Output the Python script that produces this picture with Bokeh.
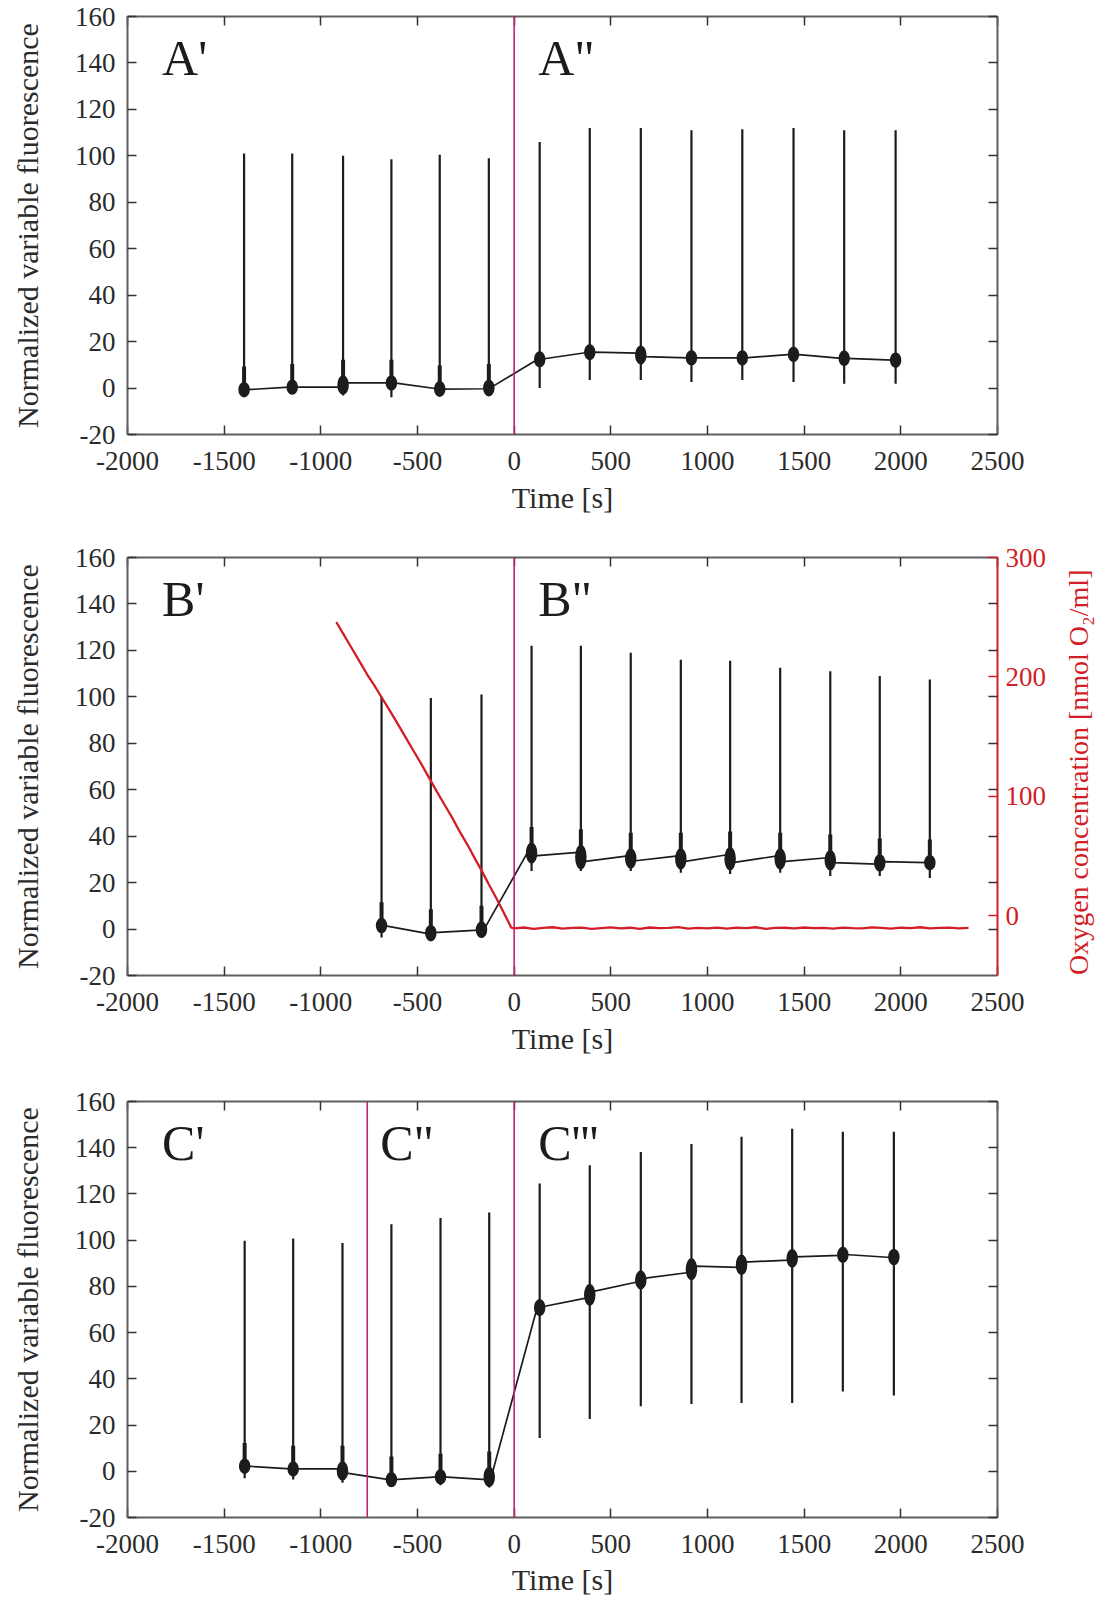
import math
from bokeh.plotting import figure
from bokeh.models import Range1d, LinearAxis, FixedTicker, Span, Label
from bokeh.layouts import column, row
from bokeh.core.properties import value
from bokeh.embed import file_html
from bokeh.resources import INLINE

FONT = "Liberation Serif"
INK = "#1c1c1c"
AXIS = "#5f5f5f"
TICK = "#333333"
LABEL = "#2b2b2b"
MARK = "#c8206e"
RED = "#d21e28"

# ---------------- data ----------------
x_ticks = [-2000, -1500, -1000, -500, 0, 500, 1000, 1500, 2000, 2500]
y_ticks = [-20, 0, 20, 40, 60, 80, 100, 120, 140, 160]
o2_ticks = [0, 100, 200, 300]

# Panel A
a_time = [-1397, -1148, -885, -635, -385, -131, 132, 391, 655, 917, 1180, 1445, 1707, 1973]
a_level_in = [-0.7, 0.4, 0.4, 2.2, -0.3, -0.3, 12.2, 15.3, 15.0, 13.0, 13.0, 14.5, 12.8, 12.0]
a_level_out = [-0.7, 0.4, 2.2, 2.2, -0.5, 0.4, 12.5, 15.5, 13.5, 13.0, 13.0, 14.5, 12.8, 12.0]
a_peak = [101, 101, 100, 98.5, 100.5, 99, 106, 112, 112, 111, 111.5, 112, 111, 111]
a_trough = [-3.2, -2.5, -3.2, -4.0, -3.2, -3.2, 0.0, 3.5, 3.5, 2.6, 3.5, 2.6, 1.9, 1.9]
a_bounds = [0]
a_names = ["A'", 'A"']

# Panel B
b_time = [-686, -431, -169, 90, 345, 603, 862, 1117, 1376, 1635, 1891, 2150]
b_level_in = [1.5, -2.0, -0.5, 34.0, 33.0, 31.5, 31.5, 32.0, 31.5, 30.7, 28.0, 28.6]
b_level_out = [1.5, -1.5, 0.0, 31.5, 29.0, 29.3, 29.0, 28.6, 29.0, 28.6, 29.0, 28.6]
b_peak = [100, 99.5, 101, 122, 122, 119, 116, 115.5, 112.5, 111, 109, 107.5]
b_trough = [-3.6, -4.3, -3.6, 25.0, 25.0, 25.0, 24.3, 23.7, 24.3, 22.8, 22.8, 22.0]
b_bounds = [0]
b_names = ["B'", 'B"']

# Oxygen trace (panel B, right axis)
o2_time = [-920, -880, -840, -800, -760, -720, -686, -640, -600, -560, -520, -480,
           -431, -400, -360, -320, -280, -240, -200, -169, -130, -90, -55, -30, -15,
           0, 50, 100, 150, 200, 250, 300, 350, 400, 450, 500, 550, 600, 650, 700,
           750, 800, 850, 900, 950, 1000, 1050, 1100, 1150, 1200, 1250, 1300, 1350,
           1400, 1450, 1500, 1550, 1600, 1650, 1700, 1750, 1800, 1850, 1900, 1950,
           2000, 2050, 2100, 2150, 2200, 2250, 2300, 2350]
o2_conc = [246, 235, 224, 213, 202, 192, 183, 171, 160, 149, 138, 127,
           113, 104, 93, 82, 70, 59, 47, 38, 26, 14, 3, -5, -10,
           -10.5, -9.8, -10.9, -10.2, -9.6, -10.8, -10.1, -9.9, -11.0, -10.3, -9.7,
           -10.6, -10.0, -10.9, -9.8, -10.4, -10.2, -9.5, -10.7, -10.1, -10.5, -9.9,
           -10.8, -10.0, -10.3, -9.6, -10.9, -10.2, -10.0, -10.6, -9.8, -10.4, -10.1,
           -10.7, -9.9, -10.3, -10.5, -9.7, -10.2, -10.8, -10.0, -10.4, -9.6, -10.6,
           -10.1, -9.9, -10.5, -10.2]
o2_title = "Oxygen concentration [nmol O\u2082/ml]"

# Panel C
c_time = [-1394, -1143, -888, -635, -381, -129, 132, 391, 655, 917, 1176, 1438, 1700, 1964]
c_level_in = [2.2, 1.0, 1.0, -3.6, -2.4, -3.6, 70.5, 75.0, 82.0, 86.0, 88.2, 91.4, 93.4, 92.5]
c_level_out = [2.2, 1.0, -0.7, -3.6, -2.4, -1.4, 71.2, 77.7, 83.5, 88.8, 90.5, 92.8, 93.8, 93.0]
c_peak = [99.7, 100.7, 98.8, 106.9, 109.6, 112.0, 124.5, 132.4, 138.1, 141.6, 144.7, 148.2, 146.9, 146.9]
c_trough = [-3.0, -3.6, -5.0, -6.5, -6.0, -7.0, 14.4, 22.6, 28.1, 29.1, 29.5, 29.5, 34.5, 32.8]
c_bounds = [-760, 0]
c_names = ["C'", 'C"', "C'''"]


# ---------------- helpers ----------------
def style_axis(ax, color=AXIS, tick_color=TICK, label_color=LABEL, show_labels=True):
    ax.axis_line_color = color
    ax.axis_line_width = 2
    ax.major_tick_line_color = tick_color
    ax.major_tick_line_width = 1.5
    ax.major_tick_in = 9
    ax.major_tick_out = 0
    ax.minor_tick_line_color = None
    ax.major_label_text_font = FONT
    ax.major_label_text_color = label_color
    ax.axis_label_text_font = FONT
    ax.axis_label_text_font_size = "30px"
    ax.axis_label_text_font_style = "normal"
    ax.axis_label_text_color = label_color
    ax.major_label_text_font_size = "27px"
    if not show_labels:
        ax.major_label_text_font_size = "1px"
        ax.major_label_standoff = 0


def make_panel(width, height, border_top, border_bottom, border_right=108,
               right_mirror=True, lab_standoff=17, title_standoff=8):
    p = figure(width=width, height=height, x_range=Range1d(-2000, 2500),
               y_range=Range1d(-20, 160), output_backend="svg",
               toolbar_location=None, x_axis_location=None, y_axis_location=None,
               min_border_left=127, min_border_right=border_right,
               min_border_top=border_top, min_border_bottom=border_bottom)
    p.outline_line_color = None
    p.xgrid.visible = False
    p.ygrid.visible = False
    p.background_fill_color = "white"
    p.border_fill_color = "white"

    xt = FixedTicker(ticks=x_ticks)
    yt = FixedTicker(ticks=y_ticks)

    bottom = LinearAxis(ticker=xt, axis_label="Time [s]",
                        major_label_overrides={v: str(v) for v in x_ticks})
    style_axis(bottom)
    bottom.major_label_standoff = lab_standoff
    bottom.axis_label_standoff = title_standoff
    p.add_layout(bottom, "below")

    top = LinearAxis(ticker=xt, major_label_overrides={v: "" for v in x_ticks})
    style_axis(top, show_labels=False)
    p.add_layout(top, "above")

    left = LinearAxis(ticker=yt, axis_label="Normalized variable fluorescence",
                      major_label_overrides={v: str(v) for v in y_ticks})
    style_axis(left)
    left.major_label_standoff = 12
    left.axis_label_standoff = 28
    p.add_layout(left, "left")

    if right_mirror:
        right = LinearAxis(ticker=yt, major_label_overrides={v: "" for v in y_ticks})
        style_axis(right, show_labels=False)
        p.add_layout(right, "right")
    return p


def draw_events(p, t, lin, lout, peak, trough, n_tail):
    xs, ys = [], []
    for ti, a, b in zip(t, lin, lout):
        xs += [ti - 14, ti + 14]
        ys += [a, b]
    p.line(xs, ys, line_color=INK, line_width=1.7)
    p.segment(x0=t, y0=trough, x1=t, y1=peak, line_color=INK, line_width=2.2)
    lo = [min(a, b) - 3 for a, b in zip(lin, lout)]
    hi = [max(a, b) + 3 for a, b in zip(lin, lout)]
    p.ellipse(x=t, y=[(l + h) / 2 for l, h in zip(lo, hi)], width=10,
              height=[h - l for l, h in zip(lo, hi)], width_units="screen",
              fill_color=INK, line_color=INK, line_width=1.5)
    p.segment(x0=t[:n_tail], y0=hi[:n_tail], x1=t[:n_tail],
              y1=[h + 7 for h in hi[:n_tail]], line_color=INK, line_width=4)


def add_marks(p, bounds, names, name_x):
    for b in bounds:
        p.add_layout(Span(location=b, dimension="height", line_color=MARK,
                          line_width=1.6))
    for nm, nx in zip(names, name_x):
        p.add_layout(Label(x=nx, y=142, text=nm, text_font=FONT,
                           text_font_size="50px", text_color=INK,
                           text_baseline="alphabetic", text_align="left"))


# ---------------- panel A ----------------
pa = make_panel(1105, 541, 16, 107)
draw_events(pa, a_time, a_level_in, a_level_out, a_peak, a_trough, 6)
add_marks(pa, a_bounds, a_names, [-1821, 124])

# ---------------- panel B ----------------
pb = make_panel(1062, 544, 16, 110, border_right=65, right_mirror=False)
pb.extra_y_ranges = {"o2": Range1d(-50, 300)}
mirror_minor = [-50 + (v + 20) * 350 / 180 for v in y_ticks[1:-1]]
raxis = LinearAxis(y_range_name="o2",
                   ticker=FixedTicker(ticks=o2_ticks, minor_ticks=mirror_minor),
                   major_label_overrides={v: str(v) for v in o2_ticks})
style_axis(raxis, color=RED, tick_color=RED, label_color=RED)
raxis.minor_tick_line_color = TICK
raxis.minor_tick_line_width = 1.5
raxis.minor_tick_in = 9
raxis.minor_tick_out = 0
raxis.major_label_standoff = 8
pb.add_layout(raxis, "right")
draw_events(pb, b_time, b_level_in, b_level_out, b_peak, b_trough, 12)
pb.line(o2_time, o2_conc, y_range_name="o2", line_color=RED, line_width=2.3)
add_marks(pb, b_bounds, b_names, [-1821, 124])

# side strip carrying the right-hand axis title (reads bottom to top)
ps = figure(width=43, height=544, x_range=Range1d(0, 43), y_range=Range1d(-20, 160),
            output_backend="svg", toolbar_location=None,
            x_axis_location=None, y_axis_location=None,
            min_border_left=0, min_border_right=0, min_border_top=16,
            min_border_bottom=110)
ps.outline_line_color = None
ps.grid.visible = False
ps.text(x=[16], y=[67.5], text=[o2_title], angle=math.pi / 2,
        text_align="center", text_baseline="middle",
        text_font=value(FONT), text_font_size=value("28px"), text_color=RED)

# ---------------- panel C ----------------
pc = make_panel(1105, 513, 16, 79, lab_standoff=17, title_standoff=7)
draw_events(pc, c_time, c_level_in, c_level_out, c_peak, c_trough, 6)
add_marks(pc, c_bounds, c_names, [-1821, -693, 124])

layout = column(pa, row(pb, ps, spacing=0), pc, spacing=0)
open("out.html", "w").write(file_html(layout, INLINE))
